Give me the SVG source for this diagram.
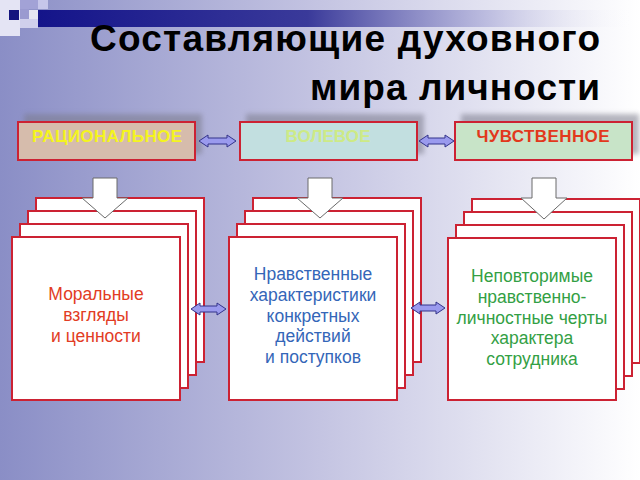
<svg xmlns="http://www.w3.org/2000/svg" width="640" height="480" viewBox="0 0 640 480">
<defs>
<linearGradient id="bg" x1="0" y1="0" x2="1" y2="0">
<stop offset="0" stop-color="#8a8ec6"/>
<stop offset="0.5" stop-color="#c4c4e2"/>
<stop offset="1" stop-color="#ffffff"/>
</linearGradient>
<linearGradient id="bar" x1="0" y1="0" x2="1" y2="0">
<stop offset="0" stop-color="#14148a"/>
<stop offset="0.45" stop-color="#3a3a9a"/>
<stop offset="0.75" stop-color="#b4b4dc" stop-opacity="0.8"/>
<stop offset="1" stop-color="#ffffff" stop-opacity="0"/>
</linearGradient>
<filter id="blur" x="-10%" y="-30%" width="120%" height="160%">
<feGaussianBlur stdDeviation="2.5"/>
</filter>
<style>
.title{font-family:"Liberation Sans",Arial,sans-serif;font-weight:bold;font-size:37px;fill:#000;text-anchor:end}
.head{font-family:"Liberation Sans",Arial,sans-serif;font-weight:bold;font-size:17px;text-anchor:middle}
.card{fill:#fff;stroke:#cc2233;stroke-width:2}
.box{stroke:#cc2233;stroke-width:2}
.shadow{fill:#7a7a8a;opacity:0.55;filter:url(#blur)}
.txt{font-family:"Liberation Sans",Arial,sans-serif;font-size:17.5px;text-anchor:middle}
.dbl{fill:#9a9aee;stroke:#33338a;stroke-width:1}
.down{fill:#fff;stroke:#6a6a6a;stroke-width:1}
</style>
</defs>
<rect width="640" height="480" fill="url(#bg)"/>
<rect x="0" y="0" width="20" height="36" fill="#e4e4f4"/>
<rect x="20" y="0" width="18" height="9" fill="#a2a2d6"/>
<rect x="38" y="0" width="10" height="9" fill="#c6c6ea"/>
<rect x="20" y="9" width="9" height="10" fill="#9a9ad0"/>
<rect x="29" y="10" width="9" height="9" fill="#e4e4f2"/>
<rect x="9" y="10" width="10" height="10" fill="#14147e"/>
<rect x="20" y="19" width="18" height="9" fill="#d0d0ec"/>
<rect x="38" y="10" width="600" height="17" fill="url(#bar)"/>
<text class="title" x="600" y="51" textLength="510">Составляющие духовного</text>
<text class="title" x="600" y="100" textLength="290">мира личности</text>

<g id="rational">
<rect class="shadow" x="24" y="114" width="178" height="40"/>
<rect class="box" x="18" y="122" width="177" height="38" fill="#d6bcac"/>
<text class="head" x="107" y="142" fill="#f4f41e" textLength="150">РАЦИОНАЛЬНОЕ</text>
</g>
<g id="volitional">
<rect class="shadow" x="246" y="114" width="178" height="40"/>
<rect class="box" x="240" y="122" width="177" height="38" fill="#c2dfe0"/>
<text class="head" x="328" y="142" fill="#cdea86" textLength="85">ВОЛЕВОЕ</text>
</g>
<g id="emotional">
<rect class="shadow" x="461" y="114" width="178" height="40"/>
<rect class="box" x="455" y="122" width="177" height="38" fill="#c8e4c8"/>
<text class="head" x="543" y="142" fill="#e2381c" textLength="133">ЧУВСТВЕННОЕ</text>
</g>

<g id="stack1">
<rect class="card" x="36" y="198" width="168" height="164"/>
<rect class="card" x="28" y="211" width="168" height="164"/>
<rect class="card" x="20" y="224" width="168" height="164"/>
<rect class="card" x="12" y="237" width="168" height="163"/>
<text class="txt" x="96" y="300" fill="#e23c24">Моральные</text>
<text class="txt" x="96" y="321" fill="#e23c24">взгляды</text>
<text class="txt" x="96" y="342" fill="#e23c24">и ценности</text>
</g>
<g id="stack2">
<rect class="card" x="253" y="198" width="168" height="164"/>
<rect class="card" x="245" y="211" width="168" height="164"/>
<rect class="card" x="237" y="224" width="168" height="164"/>
<rect class="card" x="229" y="237" width="168" height="163"/>
<text class="txt" x="313" y="280" fill="#3466b8">Нравственные</text>
<text class="txt" x="313" y="301" fill="#3466b8">характеристики</text>
<text class="txt" x="313" y="322" fill="#3466b8">конкретных</text>
<text class="txt" x="313" y="342" fill="#3466b8">действий</text>
<text class="txt" x="313" y="363" fill="#3466b8">и поступков</text>
</g>
<g id="stack3">
<rect class="card" x="472" y="199" width="168" height="164"/>
<rect class="card" x="464" y="212" width="168" height="164"/>
<rect class="card" x="456" y="225" width="168" height="164"/>
<rect class="card" x="448" y="238" width="168" height="162"/>
<text class="txt" x="532" y="282" fill="#33a044">Неповторимые</text>
<text class="txt" x="532" y="303" fill="#33a044">нравственно-</text>
<text class="txt" x="532" y="324" fill="#33a044">личностные черты</text>
<text class="txt" x="532" y="344" fill="#33a044">характера</text>
<text class="txt" x="532" y="365" fill="#33a044">сотрудника</text>
</g>

<g id="connectors">
<path class="dbl" d="M199,141 L208,135 L208,138 L227,138 L227,135 L236,141 L227,147 L227,144 L208,144 L208,147 Z"/>
<path class="dbl" d="M419,141 L428,135 L428,138 L445,138 L445,135 L454,141 L445,147 L445,144 L428,144 L428,147 Z"/>
<path class="dbl" d="M191,309 L200,303 L200,306 L217,306 L217,303 L226,309 L217,315 L217,312 L200,312 L200,315 Z"/>
<path class="dbl" d="M411,308 L420,302 L420,305 L436,305 L436,302 L445,308 L436,314 L436,311 L420,311 L420,314 Z"/>
<path class="down" d="M93,178 H117 V198 H128 L105,218 L82,198 H93 Z"/>
<path class="down" d="M308,178 H332 V198 H343 L320,218 L297,198 H308 Z"/>
<path class="down" d="M532,178 H556 V198 H567 L544,219 L521,198 H532 Z"/>
</g>
</svg>
